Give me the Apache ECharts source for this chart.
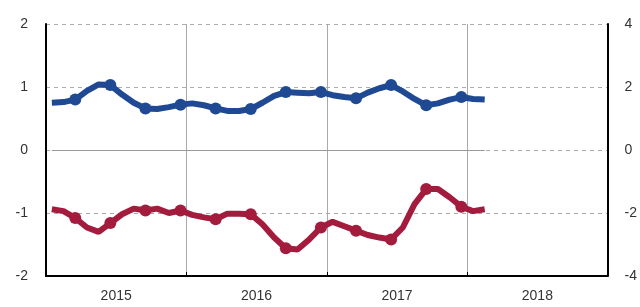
<!DOCTYPE html>
<html>
<head>
<meta charset="utf-8">
<script src="https://cdn.jsdelivr.net/npm/echarts@6/dist/echarts.min.js"></script>
<style>
  html, body { margin: 0; padding: 0; background: #fff; }
  #chart { width: 640px; height: 307px; }
</style>
</head>
<body>
<div id="chart"></div>
<script>
// years on the axis
const years = ["2015", "2016", "2017", "2018"];
// monthly points, Jan 2015 .. Feb 2018
const blueValues = [
  0.75, 0.76, 0.80, 0.94, 1.04, 1.03, 0.88, 0.75, 0.66, 0.65, 0.68, 0.72,
  0.74, 0.71, 0.66, 0.62, 0.62, 0.65, 0.75, 0.86, 0.92, 0.91, 0.90, 0.92,
  0.87, 0.84, 0.82, 0.91, 0.98, 1.03, 0.93, 0.81, 0.71, 0.74, 0.80, 0.84,
  0.81, 0.80
];
const redValues = [
  -0.94, -0.97, -1.08, -1.23, -1.30, -1.16, -1.02, -0.93, -0.96, -0.93, -1.00, -0.96,
  -1.03, -1.07, -1.10, -1.01, -1.01, -1.02, -1.18, -1.39, -1.56, -1.58, -1.42, -1.23,
  -1.14, -1.21, -1.28, -1.35, -1.39, -1.42, -1.23, -0.86, -0.62, -0.62, -0.75, -0.90,
  -0.97, -0.94
];
const leftTicks = { min: -2, max: 2, interval: 1 };
const rightTicks = { min: -4, max: 4, interval: 2 };

// 48 month slots, 4 years
const months = [];
years.forEach((y) => {
  for (let m = 1; m <= 12; m++) months.push(y + "-" + (m < 10 ? "0" + m : m));
});

const chart = echarts.init(document.getElementById("chart"));

// marker on every quarter end
const quarterSymbol = (value, params) => (params.dataIndex % 3 === 2 ? 12 : 0);

const options = {
  animation: false,
  grid: { left: 46, right: 31, top: 24, bottom: 31 },
  xAxis: [
    {
      type: "category",
      data: years,
      boundaryGap: true,
      axisLine: { show: true, onZero: false, lineStyle: { color: "#000", width: 2 } },
      axisTick: { show: true, inside: true, length: 4, lineStyle: { color: "#000" } },
      axisLabel: { color: "#333", fontSize: 14, margin: 13, fontFamily: "Liberation Sans" },
      splitLine: { show: true, lineStyle: { color: "#aaa", width: 1 } },
    },
    {
      type: "category",
      data: months,
      boundaryGap: true,
      show: false,
      axisLine: { onZero: false },
    },
  ],
  yAxis: [
    {
      type: "value",
      min: leftTicks.min,
      max: leftTicks.max,
      interval: leftTicks.interval,
      axisLine: { show: true, lineStyle: { color: "#000", width: 2 } },
      axisTick: { show: false },
      axisLabel: { color: "#333", fontSize: 14, margin: 18, fontFamily: "Liberation Sans" },
      splitLine: { show: true, lineStyle: { color: "#aaa", type: [4, 4], width: 1 } },
    },
    {
      type: "value",
      position: "right",
      min: rightTicks.min,
      max: rightTicks.max,
      interval: rightTicks.interval,
      axisLine: { show: true, lineStyle: { color: "#000", width: 2 } },
      axisTick: { show: false },
      axisLabel: { color: "#333", fontSize: 14, margin: 17, fontFamily: "Liberation Sans" },
      splitLine: { show: false },
    },
  ],
  series: [
    {
      name: "blue",
      type: "line",
      xAxisIndex: 1,
      yAxisIndex: 0,
      data: blueValues,
      symbol: "circle",
      symbolSize: quarterSymbol,
      showAllSymbol: true,
      itemStyle: { color: "#1f4a93" },
      lineStyle: { color: "#1f4a93", width: 6 },
      z: 3,
      markLine: {
        silent: true,
        symbol: "none",
        label: { show: false },
        lineStyle: { color: "#999", type: "solid", width: 1 },
        data: [[{ coord: [months[0], 0] }, { coord: [months[blueValues.length - 1], 0] }]],
      },
    },
    {
      name: "red",
      type: "line",
      xAxisIndex: 1,
      yAxisIndex: 0,
      data: redValues,
      symbol: "circle",
      symbolSize: quarterSymbol,
      showAllSymbol: true,
      itemStyle: { color: "#a31c3d" },
      lineStyle: { color: "#a31c3d", width: 6 },
      z: 3,
    },
  ],
};

chart.setOption(options);
</script>
</body>
</html>
